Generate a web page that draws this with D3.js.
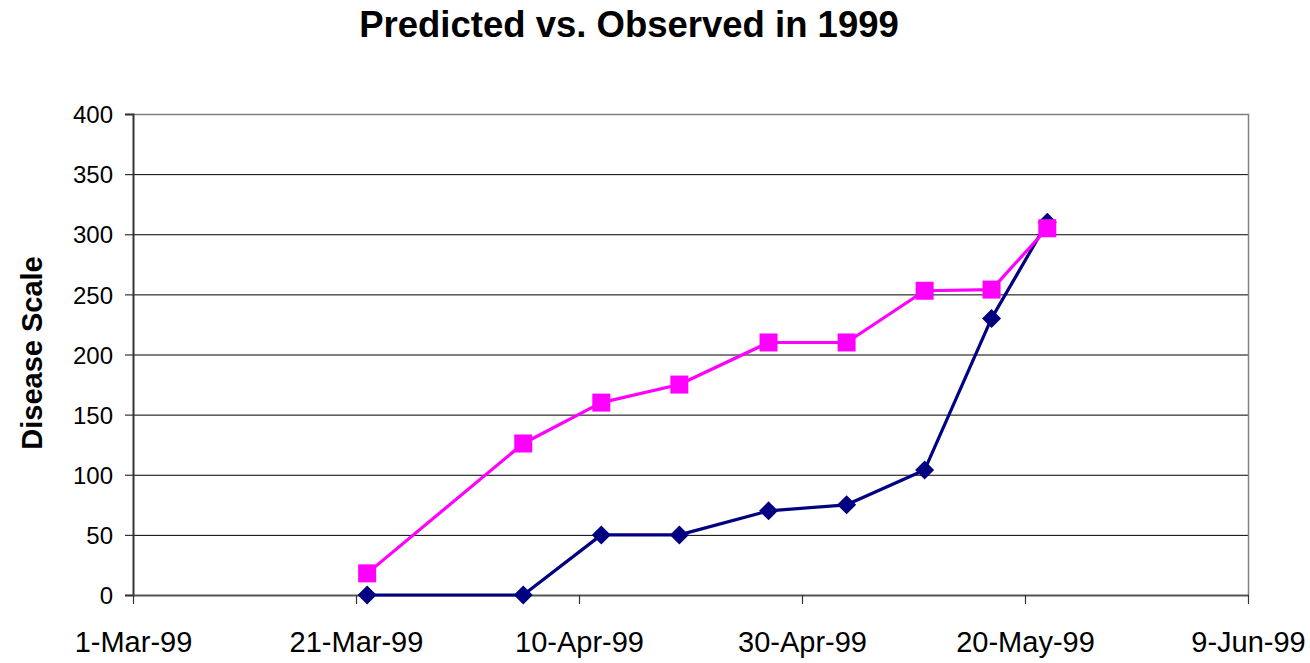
<!DOCTYPE html>
<html>
<head>
<meta charset="utf-8">
<script src="https://cdn.jsdelivr.net/npm/d3@7"></script>
<style>
  html, body { margin: 0; padding: 0; background: #ffffff; }
  svg { display: block; font-family: "Liberation Sans", Arial, sans-serif; }
</style>
</head>
<body>
<svg id="chart" width="1310" height="663"></svg>
<script>
// Observation dates (1999)
const dates = ["1999-03-22", "1999-04-05", "1999-04-12", "1999-04-19", "1999-04-27",
               "1999-05-04", "1999-05-11", "1999-05-17", "1999-05-22"];
// Disease scale readings
const predicted = [18, 126, 160, 175, 210, 210, 253, 254, 305];
const observed  = [0, 0, 50, 50, 70, 75, 104, 230, 310];
// Axis ticks
const yTicks = [0, 50, 100, 150, 200, 250, 300, 350, 400];
const xTickDates = ["1999-03-01", "1999-03-21", "1999-04-10", "1999-04-30", "1999-05-20", "1999-06-09"];

const parse = d3.utcParse("%Y-%m-%d");
const fmt = d3.utcFormat("%-d-%b-%y");

const svg = d3.select("#chart");
const L = 133, R = 1248, T = 114, B = 595;

const x = d3.scaleUtc()
  .domain([parse(xTickDates[0]), parse(xTickDates[xTickDates.length - 1])])
  .range([L, R]);
const y = d3.scaleLinear().domain([0, 400]).range([B, T]);

// Title
svg.append("text")
  .attr("x", 629).attr("y", 37)
  .attr("text-anchor", "middle")
  .style("font-size", "36.5px").style("font-weight", "bold")
  .text("Predicted vs. Observed in 1999");

// Y axis title
svg.append("text")
  .attr("transform", "translate(42,353) rotate(-90)")
  .attr("text-anchor", "middle")
  .style("font-size", "29px").style("font-weight", "bold")
  .text("Disease Scale");

// Horizontal gridlines
svg.append("g").selectAll("line")
  .data(yTicks.filter(v => v > 0 && v < 400))
  .join("line")
  .attr("x1", L).attr("x2", R)
  .attr("y1", d => y(d) + 0.5).attr("y2", d => y(d) + 0.5)
  .attr("stroke", "#000").attr("stroke-width", 1);

// Plot frame (top & right)
svg.append("path")
  .attr("d", `M${L},${T + 0.5}H${R + 0.5}V${B}`)
  .attr("fill", "none").attr("stroke", "#808080").attr("stroke-width", 1.5);

// Y axis
const yAxis = svg.append("g")
  .attr("transform", `translate(${L},0)`)
  .call(d3.axisLeft(y).tickValues(yTicks).tickSize(8).tickPadding(12));
yAxis.select(".domain").attr("stroke", "#333").attr("stroke-width", 2);
yAxis.selectAll(".tick line").attr("stroke", "#333").attr("stroke-width", 1.2);
yAxis.selectAll(".tick text")
  .style("font-size", "24px").style("font-family", "Liberation Sans, Arial, sans-serif")
  .attr("fill", "#000").attr("dy", "0.36em");

// X axis
const xAxis = svg.append("g")
  .attr("transform", `translate(0,${B})`)
  .call(d3.axisBottom(x).tickValues(xTickDates.map(parse)).tickFormat(fmt).tickSize(9).tickSizeOuter(0).tickPadding(27));
xAxis.select(".domain").attr("stroke", "#555").attr("stroke-width", 2);
xAxis.selectAll(".tick line").attr("stroke", "#333").attr("stroke-width", 1.2);
xAxis.selectAll(".tick text")
  .style("font-size", "29px").style("font-family", "Liberation Sans, Arial, sans-serif")
  .attr("fill", "#000");

const observedPts = dates.map((d, i) => ({ date: parse(d), value: observed[i] }));
const predictedPts = dates.map((d, i) => ({ date: parse(d), value: predicted[i] }));

const line = d3.line().x(d => x(d.date)).y(d => y(d.value));

// Observed series: navy line with diamonds
svg.append("path")
  .datum(observedPts)
  .attr("d", line)
  .attr("fill", "none").attr("stroke", "#000080").attr("stroke-width", 3.2)
  .attr("stroke-linejoin", "round");
svg.append("g").selectAll("path")
  .data(observedPts)
  .join("path")
  .attr("transform", d => `translate(${x(d.date)},${y(d.value)})`)
  .attr("d", "M0,-9.5L9.5,0L0,9.5L-9.5,0Z")
  .attr("fill", "#000080");

// Predicted series: magenta line with squares
svg.append("path")
  .datum(predictedPts)
  .attr("d", line)
  .attr("fill", "none").attr("stroke", "#ff00ff").attr("stroke-width", 3.2)
  .attr("stroke-linejoin", "round");
svg.append("g").selectAll("rect")
  .data(predictedPts)
  .join("rect")
  .attr("x", d => x(d.date) - 9).attr("y", d => y(d.value) - 9)
  .attr("width", 18).attr("height", 18)
  .attr("fill", "#ff00ff");
</script>
</body>
</html>
